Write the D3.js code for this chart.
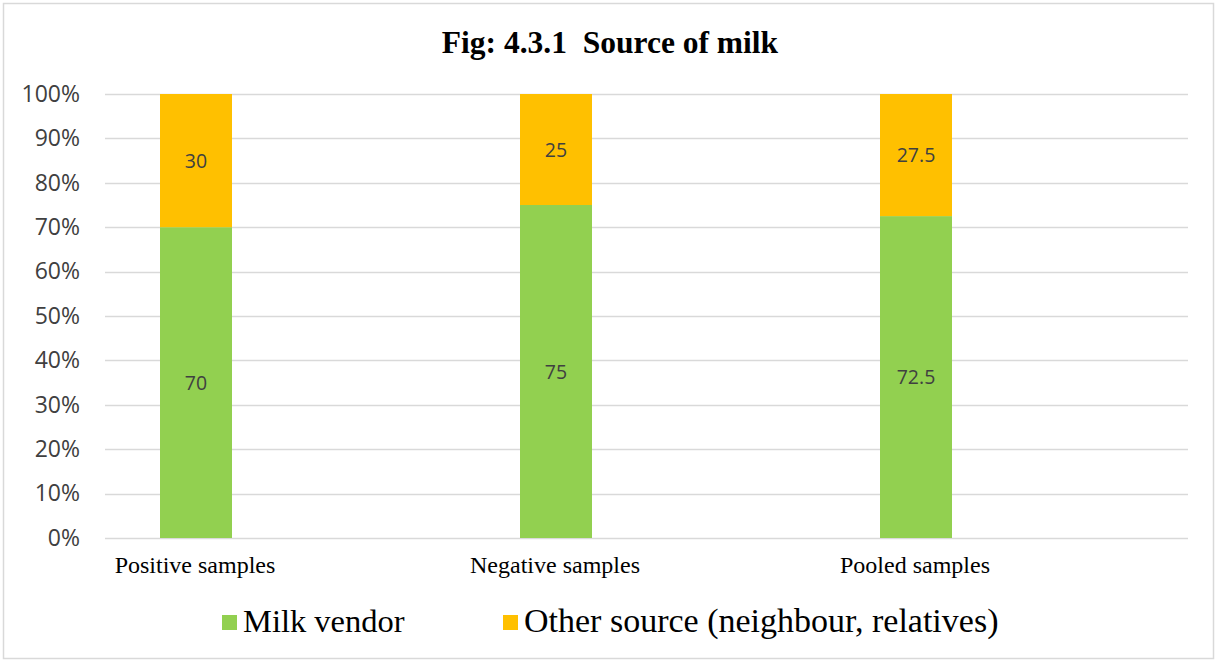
<!DOCTYPE html>
<html>
<head>
<meta charset="utf-8">
<script src="https://cdn.jsdelivr.net/npm/d3@7/dist/d3.min.js"></script>
<style>
  html, body { margin: 0; padding: 0; background: #fff; }
  svg { display: block; }
</style>
</head>
<body>
<svg id="chart" width="1217" height="662"></svg>
<script>
// Source of milk by sample group (percent)
const categories = ["Positive samples", "Negative samples", "Pooled samples"];
const milkVendor = [70, 75, 72.5];
const otherSource = [30, 25, 27.5];
const seriesNames = ["Milk vendor", "Other source (neighbour, relatives)"];
const seriesColors = ["#92D050", "#FFC000"];
const yTicks = [0, 10, 20, 30, 40, 50, 60, 70, 80, 90, 100];

const svg = d3.select("#chart");
const W = 1217, H = 662;
const serif = "'Liberation Serif', 'Times New Roman', serif";
const sans = "'Open Sans', 'Liberation Sans', sans-serif";

// chart frame
svg.append("rect")
  .attr("x", 3.5).attr("y", 3.5)
  .attr("width", W - 7).attr("height", H - 7)
  .attr("fill", "#fff").attr("stroke", "#d9d9d9").attr("stroke-width", 1.5);

const plot = { left: 105, right: 1188, top: 94, bottom: 538 };

const y = d3.scaleLinear().domain([0, 100]).range([plot.bottom, plot.top]);
const x = d3.scaleBand().domain(categories).range([16, 1096]).paddingInner(0).paddingOuter(0);
const barW = x.bandwidth() * 0.2;

// title
svg.append("text")
  .attr("x", 610).attr("y", 53)
  .attr("text-anchor", "middle")
  .attr("font-family", serif)
  .attr("font-weight", "bold")
  .attr("font-size", 31.5)
  .attr("fill", "#000")
  .text("Fig: 4.3.1\u00a0 Source of milk");

// gridlines
svg.append("g")
  .selectAll("line")
  .data(yTicks)
  .join("line")
  .attr("x1", plot.left).attr("x2", plot.right)
  .attr("y1", d => Math.round(y(d)) + 0.5).attr("y2", d => Math.round(y(d)) + 0.5)
  .attr("stroke", "#d9d9d9").attr("stroke-width", 1.5);

// y axis labels
const yAxis = d3.axisLeft(y).tickValues(yTicks).tickFormat(d => d + "%").tickSize(0).tickPadding(0);
const yG = svg.append("g").attr("transform", `translate(80,0)`).call(yAxis);
yG.select(".domain").remove();
yG.selectAll("text")
  .attr("font-family", sans)
  .attr("font-size", 23)
  .attr("fill", "#404040");

// stacked data
const rows = categories.map((c, i) => ({ cat: c, vendor: milkVendor[i], other: otherSource[i] }));
const stack = d3.stack().keys(["vendor", "other"]);
const layers = stack(rows);

layers.forEach((layer, li) => {
  const g = svg.append("g");
  g.selectAll("rect")
    .data(layer)
    .join("rect")
    .attr("x", d => x(d.data.cat) + (x.bandwidth() - barW) / 2)
    .attr("width", barW)
    .attr("y", d => y(d[1]))
    .attr("height", d => y(d[0]) - y(d[1]))
    .attr("fill", seriesColors[li]);
  g.selectAll("text")
    .data(layer)
    .join("text")
    .attr("x", d => x(d.data.cat) + x.bandwidth() / 2)
    .attr("y", d => y((d[0] + d[1]) / 2))
    .attr("dy", "0.36em")
    .attr("text-anchor", "middle")
    .attr("font-family", sans)
    .attr("font-size", 19.5)
    .attr("fill", "#404040")
    .text(d => d[1] - d[0]);
});

// category labels
const xAxis = d3.axisBottom(x).tickSize(0).tickPadding(0);
const xG = svg.append("g").attr("transform", `translate(-1,${plot.bottom})`).call(xAxis);
xG.select(".domain").remove();
xG.selectAll("text")
  .attr("y", 35)
  .attr("dy", 0)
  .attr("font-family", serif)
  .attr("font-size", 24)
  .attr("fill", "#000");

// legend
const legendItems = [
  { name: seriesNames[0], color: seriesColors[0], x: 222, size: 32.5 },
  { name: seriesNames[1], color: seriesColors[1], x: 503, size: 34 }
];
const lg = svg.append("g");
legendItems.forEach(it => {
  lg.append("rect")
    .attr("x", it.x).attr("y", 615)
    .attr("width", 15).attr("height", 15)
    .attr("fill", it.color);
  lg.append("text")
    .attr("x", it.x + 21).attr("y", 632)
    .attr("font-family", serif)
    .attr("font-size", it.size)
    .attr("fill", "#000")
    .text(it.name);
});
</script>
</body>
</html>
